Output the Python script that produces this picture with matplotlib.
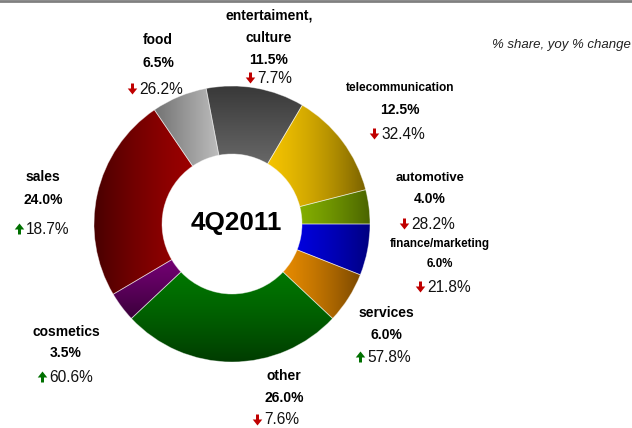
import numpy as np
import matplotlib.pyplot as plt
from matplotlib.colors import LinearSegmentedColormap

W, H = 632, 428

# slices listed clockwise starting at 3 o'clock
names = ['finance/marketing', 'services', 'other', 'cosmetics', 'sales',
         'food', 'entertaiment,\nculture', 'telecommunication', 'automotive']
shares = [6.0, 6.0, 26.0, 3.5, 24.0, 6.5, 11.5, 12.5, 4.0]
changes = [-21.8, 57.8, -7.6, 60.6, 18.7, -26.2, -7.7, -32.4, -28.2]

# gradient (first colour, last colour, h = left->right, v = top->bottom, bright end held longer)
grads = [('#0000ff', '#000080', 'h', 1.8),
         ('#ff9a00', '#7a4800', 'h', 1.8),
         ('#008400', '#003c00', 'v', 1.6),
         ('#880088', '#3a003a', 'v', 1.4),
         ('#440000', '#a80000', 'h', 0.6),
         ('#727272', '#cccccc', 'h', 1.0),
         ('#383838', '#8c8c8c', 'v', 1.0),
         ('#ffcc00', '#7a6200', 'h', 1.9),
         ('#9acc00', '#4a6400', 'h', 1.8)]

# label layout in pixels from top-left:
# centre x, name y, share y, change y, left x of change number, name size, share size
layout = [(440, 244, 264, 287, 427, 8.4, 8.3),
          (386, 313, 335, 357, 367, 10, 10),
          (284, 376, 398, 420, 264, 10, 10),
          (66, 332, 353, 377, 49, 10, 10),
          (43, 177, 200, 229, 26, 10, 10),
          (158, 40, 63, 89, 139, 10, 10),
          (269, 15, 60, 78, 257, 10, 10),
          (400, 88, 110, 134, 381, 8.6, 10),
          (430, 178, 199, 224, 411, 9.4, 10)]

plt.rcParams['font.family'] = ['Liberation Sans', 'DejaVu Sans']

fig = plt.figure(figsize=(W / 100, H / 100), dpi=100)
ax = fig.add_axes([0, 0, 1, 1])

cx, cy, R = 232, H - 224, 138
wedges, _ = ax.pie(shares, startangle=0, counterclock=False, radius=R,
                   center=(cx, cy), frame=True,
                   wedgeprops=dict(width=68, edgecolor=(1, 1, 1, 0.45), linewidth=0.6))

for w, (c1, c2, d, p) in zip(wedges, grads):
    v = w.get_path().vertices
    x0, y0 = v.min(axis=0)
    x1, y1 = v.max(axis=0)
    cmap = LinearSegmentedColormap.from_list('g', [c1, c2])
    g = np.linspace(0, 1, 256)
    g = g ** p if p >= 1 else 1 - (1 - g) ** (1 / p)
    arr = g[None, :] if d == 'h' else g[:, None]
    im = ax.imshow(arr, cmap=cmap, vmin=0, vmax=1, extent=(x0, x1, y0, y1), origin='upper',
                   aspect='auto', interpolation='bilinear', zorder=0)
    im.set_clip_path(w)
    w.set_facecolor('none')

ax.text(236, H - 223, '4Q2011', ha='center', va='center', fontsize=18.8, fontweight='bold')

for name, sh, ch, (x, ny, sy, chy, nx, nfs, sfs) in zip(names, shares, changes, layout):
    for i, line in enumerate(name.split('\n')):
        ax.text(x, H - ny - 23 * i, line, ha='center', va='center',
                fontsize=nfs, fontweight='bold')
    ax.text(x, H - sy, f'{sh:.1f}%', ha='center', va='center',
            fontsize=sfs, fontweight='bold')
    ax.text(nx, H - chy, f'{abs(ch):.1f}%', ha='left', va='center',
            fontsize=11.2, color='#111111')
    up = ch > 0
    ys = H - chy - 5.5 if up else H - chy + 5.5
    ax.arrow(nx - 6.5, ys, 0, 11 if up else -11, width=3, head_width=9.5,
             head_length=6, length_includes_head=True, lw=0,
             color='#007000' if up else '#c00000')

ax.text(631, H - 45, '% share, yoy % change', ha='right', va='center',
        fontsize=9.5, style='italic', color='#222222')

ax.axhline(H - 1, color='#808080', lw=2)

ax.set_xlim(0, W)
ax.set_ylim(0, H)
ax.set_aspect('auto')
ax.set_axis_off()

fig.savefig('out.png', dpi=100)
